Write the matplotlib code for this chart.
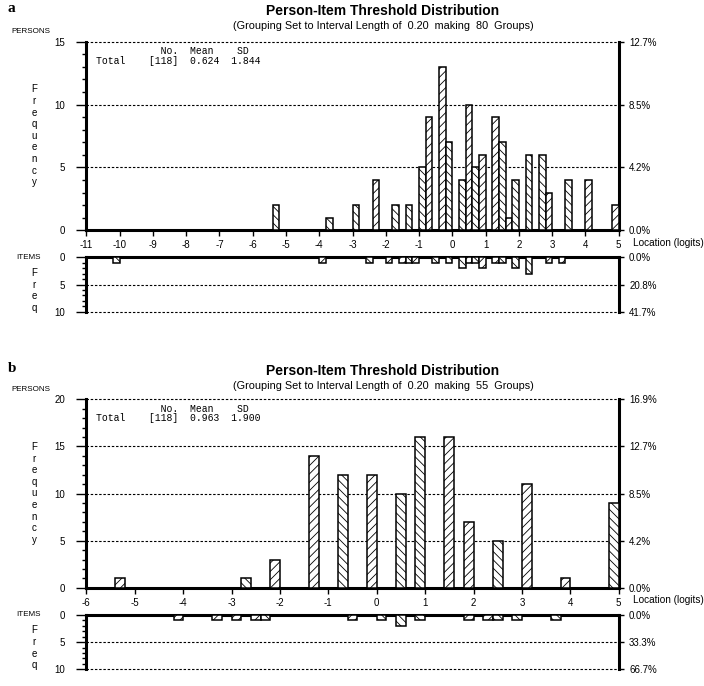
import matplotlib
matplotlib.use("Agg")
import matplotlib.pyplot as plt

plt.rcParams['font.family'] = ['Liberation Sans Narrow', 'Liberation Sans', 'DejaVu Sans']
plt.rcParams['axes.unicode_minus'] = False
plt.rcParams['hatch.linewidth'] = 0.6

W, H = 704, 686
BIN = 0.2

# panel a
a_groups = 80
a_stats = ['118', '0.624', '1.844']
a_person_bins = [-5.4, -3.8, -3.0, -2.4, -1.8, -1.4, -1.0, -0.8, -0.4, -0.2, 0.2, 0.4,
                 0.6, 0.8, 1.2, 1.4, 1.6, 1.8, 2.2, 2.6, 2.8, 3.4, 4.0, 4.8]
a_person_counts = [2, 1, 2, 4, 2, 2, 5, 9, 13, 7, 4, 10, 5, 6, 9, 7, 1, 4, 6, 6, 3, 4, 4, 2]
a_item_bins = [-10.2, -4.0, -2.6, -2.0, -1.6, -1.4, -1.2, -0.6, -0.2, 0.2, 0.4, 0.6,
               0.8, 1.2, 1.4, 1.8, 2.2, 2.8, 3.2]
a_item_counts = [1, 1, 1, 1, 1, 1, 1, 1, 1, 2, 1, 1, 2, 1, 1, 2, 3, 1, 1]
a_xticks = list(range(-11, 6))

# panel b
b_groups = 55
b_stats = ['118', '0.963', '1.900']
b_person_bins = [-5.4, -2.8, -2.2, -1.4, -0.8, -0.2, 0.4, 0.8, 1.4, 1.8, 2.4, 3.0, 3.8, 4.8]
b_person_counts = [1, 1, 3, 14, 12, 12, 10, 16, 16, 7, 5, 11, 1, 9]
b_item_bins = [-4.2, -3.4, -3.0, -2.6, -2.4, -0.6, 0.0, 0.4, 0.8, 1.8, 2.2, 2.4, 2.8, 3.6]
b_item_counts = [1, 1, 1, 1, 1, 1, 1, 2, 1, 1, 1, 1, 1, 1]
b_xticks = list(range(-6, 6))


def rect(x0, y0, x1, y1):
    return [x0 / W, 1 - y1 / H, (x1 - x0) / W, (y1 - y0) / H]


def ftext(x, y, s, **kw):
    fig.text(x / W, 1 - y / H, s, **kw)


def hatches(bins, xmin):
    return ['\\\\\\\\' if round((b - xmin) / BIN) % 2 == 0 else '////' for b in bins]


def style_left(ax, ymax):
    ax.set_yticks(range(0, ymax + 1, 5))
    ax.set_yticks(range(0, ymax + 1), minor=True)
    ax.tick_params(axis='y', which='major', direction='out', length=7.5, width=1,
                   pad=8, labelsize=7)
    ax.tick_params(axis='y', which='minor', direction='out', length=3, width=1)
    for v in range(5, ymax + 1, 5):
        ax.axhline(v, color='black', lw=0.8, ls=(0, (2.2, 1.6)), clip_on=False, zorder=1)


def style_right(ax, ymax, total):
    tw = ax.twinx()
    tw.set_ylim(ax.get_ylim())
    ticks = list(range(0, ymax + 1, 5))
    tw.set_yticks(ticks)
    tw.set_yticklabels(['%.1f%%' % (100.0 * t / total) for t in ticks])
    tw.tick_params(axis='y', direction='out', length=3.5, width=1, pad=4, labelsize=7)
    for s in tw.spines.values():
        s.set_visible(False)


def panel(y_top, letter, groups, stats, xmin, xticks, p_bins, p_counts, p_max,
          i_bins, i_counts, title_y):
    x0, x1 = 86.4, 618.7
    ph = 188.5
    ax = fig.add_axes(rect(x0, y_top, x1, y_top + ph))
    ax.bar(p_bins, p_counts, width=BIN, align='edge', facecolor='white',
           edgecolor='black', linewidth=1.1, hatch=hatches(p_bins, xmin), zorder=3)
    ax.set_xlim(xmin, 5)
    ax.set_ylim(0, p_max)
    ax.set_xticks(xticks)
    ax.tick_params(axis='x', direction='out', length=4.5, width=1, pad=2.5, labelsize=7)
    style_left(ax, p_max)
    ax.spines['top'].set_visible(False)
    for s in ['left', 'bottom', 'right']:
        ax.spines[s].set_linewidth(2.2)
    style_right(ax, p_max, sum(p_counts))

    iy = y_top + ph + 27
    ai = fig.add_axes(rect(x0, iy, x1, iy + 54.5))
    ai.bar(i_bins, i_counts, width=BIN, align='edge', facecolor='white',
           edgecolor='black', linewidth=1.1, hatch=hatches(i_bins, xmin), zorder=3)
    ai.set_xlim(xmin, 5)
    ai.set_ylim(10, 0)
    ai.set_xticks([])
    style_left(ai, 10)
    ai.spines['bottom'].set_visible(False)
    for s in ['left', 'top', 'right']:
        ai.spines[s].set_linewidth(2.2)
    style_right(ai, 10, sum(i_counts))

    ftext(8, title_y - 3, letter, family='Liberation Serif', fontweight='bold',
          fontsize=11, va='center', ha='left')
    ftext(383, title_y, 'Person-Item Threshold Distribution', fontweight='bold',
          fontsize=10, ha='center', va='center')
    ftext(383, title_y + 15,
          '(Grouping Set to Interval Length of  0.20  making  %d  Groups)' % groups,
          fontsize=7.8, ha='center', va='center')
    ftext(11, y_top - 10, 'PERSONS', fontsize=5.8, ha='left', va='center')
    ftext(34, y_top + 94, '\n'.join('Frequency'), fontsize=7, ha='center',
          va='center', linespacing=1.2)
    ftext(16, iy, 'ITEMS', fontsize=5.8, ha='left', va='center')
    ftext(34, iy + 33, '\n'.join('Freq'), fontsize=7, ha='center', va='center',
          linespacing=1.2)
    ftext(633, y_top + ph + 12.5, 'Location (logits)', fontsize=7.2, ha='left',
          va='center')
    mono = dict(family='Liberation Mono', fontsize=7, ha='left', va='center')
    ftext(96, y_top + 9.5, '           No.  Mean    SD', **mono)
    ftext(96, y_top + 18.7, 'Total    [%s]  %s  %s' % tuple(stats), **mono)


fig = plt.figure(figsize=(W / 100, H / 100), dpi=100)
panel(41.8, 'a', a_groups, a_stats, -11, a_xticks, a_person_bins, a_person_counts, 15,
      a_item_bins, a_item_counts, 11)
panel(399.3, 'b', b_groups, b_stats, -6, b_xticks, b_person_bins, b_person_counts, 20,
      b_item_bins, b_item_counts, 371)
fig.savefig('out.png', dpi=100)
